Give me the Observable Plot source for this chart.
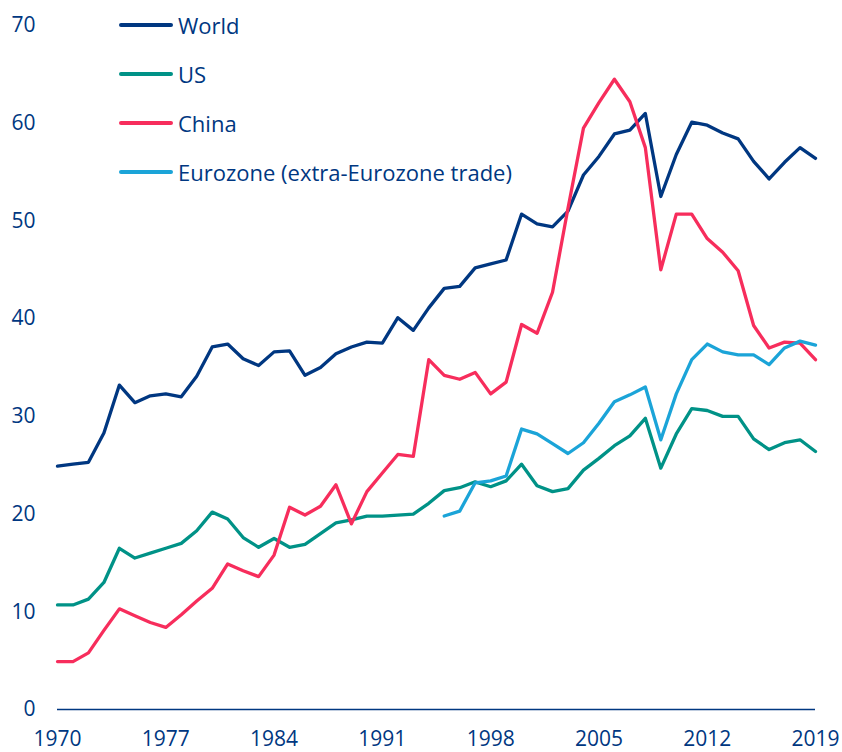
<!DOCTYPE html>
<html>
<head>
<meta charset="utf-8">
<script src="https://cdn.jsdelivr.net/npm/d3@7"></script>
<script src="https://cdn.jsdelivr.net/npm/@observablehq/plot@0.6"></script>
<style>
  body { margin: 0; background: #fff; }
  #wrap { position: relative; width: 842px; height: 752px; font-family: "Open Sans", sans-serif; color: #003781; }
  #legend { position: absolute; left: 119px; top: 10px; }
  .row { position: absolute; left: 0; height: 30px; display: flex; align-items: center; white-space: nowrap; font-size: 22px; }
  .sw { display: inline-block; width: 54px; height: 4px; border-radius: 2px; margin-right: 5px; }
</style>
</head>
<body>
<div id="wrap"><div id="legend"></div></div>
<script>
const years = [1970,1971,1972,1973,1974,1975,1976,1977,1978,1979,
               1980,1981,1982,1983,1984,1985,1986,1987,1988,1989,
               1990,1991,1992,1993,1994,1995,1996,1997,1998,1999,
               2000,2001,2002,2003,2004,2005,2006,2007,2008,2009,
               2010,2011,2012,2013,2014,2015,2016,2017,2018,2019];
const world = [24.9,25.1,25.3,28.3,33.2,31.4,32.1,32.3,32.0,34.1,
               37.1,37.4,35.9,35.2,36.6,36.7,34.2,35.0,36.4,37.1,
               37.6,37.5,40.1,38.8,41.1,43.1,43.3,45.2,45.6,46.0,
               50.7,49.7,49.4,51.0,54.7,56.6,58.9,59.3,61.0,52.5,
               56.8,60.1,59.8,59.0,58.4,56.1,54.3,56.0,57.5,56.4];
const us = [10.7,10.7,11.3,13.0,16.5,15.5,16.0,16.5,17.0,18.3,
            20.2,19.5,17.6,16.6,17.5,16.6,16.9,18.0,19.1,19.4,
            19.8,19.8,19.9,20.0,21.1,22.4,22.7,23.3,22.8,23.4,
            25.1,22.9,22.3,22.6,24.5,25.7,27.0,28.0,29.8,24.7,
            28.2,30.8,30.6,30.0,30.0,27.7,26.6,27.3,27.6,26.4];
const china = [4.9,4.9,5.8,8.1,10.3,9.6,8.9,8.4,9.7,11.1,
               12.4,14.9,14.2,13.6,15.8,20.7,19.9,20.8,23.0,19.0,
               22.3,24.2,26.1,25.9,35.8,34.2,33.8,34.5,32.3,33.5,
               39.4,38.5,42.7,51.3,59.5,62.1,64.5,62.2,57.5,45.0,
               50.7,50.7,48.2,46.8,44.9,39.3,37.0,37.6,37.5,35.8];
const eurozone = [null,null,null,null,null,null,null,null,null,null,
                  null,null,null,null,null,null,null,null,null,null,
                  null,null,null,null,null,19.8,20.3,23.2,23.4,23.9,
                  28.7,28.2,27.2,26.2,27.3,29.3,31.5,32.2,33.0,27.6,
                  32.3,35.8,37.4,36.6,36.3,36.3,35.3,37.0,37.7,37.3];
const seriesNames = ["World", "US", "China", "Eurozone (extra-Eurozone trade)"];
const seriesColors = ["#003781", "#009287", "#F72D5C", "#1BA4D8"];
const xTicks = [1970,1977,1984,1991,1998,2005,2012,2019];
const yTicks = [0,10,20,30,40,50,60,70];

const allValues = [world, us, china, eurozone];
const rows = [];
seriesNames.forEach((name, i) => {
  years.forEach((yr, j) => {
    const v = allValues[i][j];
    if (v != null) rows.push({series: name, year: yr, value: v});
  });
});

const chart = Plot.plot({
  width: 842,
  height: 752,
  marginLeft: 57,
  marginRight: 27,
  marginTop: 25,
  marginBottom: 43,
  style: {fontFamily: "Open Sans, sans-serif", fontSize: "21px", color: "#003781", background: "#fff"},
  x: {domain: [1970, 2019], ticks: xTicks, tickFormat: d => String(d), tickSize: 0, tickPadding: 22, label: null},
  y: {domain: [0, 70], ticks: yTicks, tickSize: 0, tickPadding: 22, label: null},
  color: {domain: seriesNames, range: seriesColors},
  marks: [
    Plot.ruleY([0], {stroke: "#003781", strokeWidth: 1.5}),
    Plot.line(rows, {x: "year", y: "value", z: "series", stroke: "series", strokeWidth: 3.3, strokeLinejoin: "round", strokeLinecap: "round"})
  ]
});
document.getElementById("wrap").prepend(chart);

const legend = document.getElementById("legend");
seriesNames.forEach((name, i) => {
  const row = document.createElement("div");
  row.className = "row";
  row.style.top = (i * 49) + "px";
  const sw = document.createElement("span");
  sw.className = "sw";
  sw.style.background = seriesColors[i];
  row.appendChild(sw);
  row.appendChild(document.createTextNode(name));
  legend.appendChild(row);
});
</script>
</body>
</html>
